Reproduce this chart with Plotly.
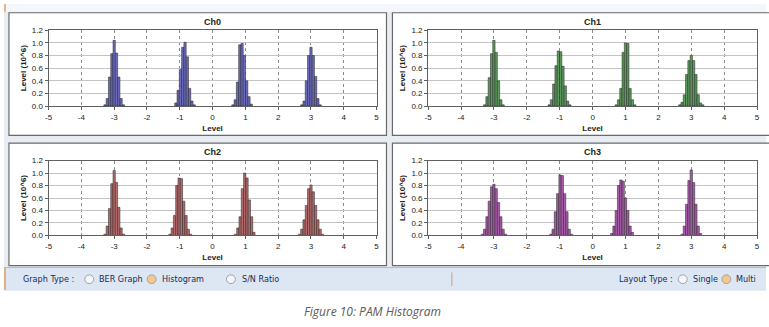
import plotly.graph_objects as go

W, H = 769, 327

# ---------------- data ----------------
channels = ["Ch0", "Ch1", "Ch2", "Ch3"]
bin_width = 0.07

# each cluster: (first bin centre, heights of consecutive bins)
ch0_clusters = [
    (-3.28, [0.02, 0.12, 0.46, 0.83, 1.04, 0.84, 0.46, 0.12, 0.02]),
    (-1.12, [0.05, 0.25, 0.58, 0.93, 1.01, 0.78, 0.28, 0.08, 0.02]),
    (0.62,  [0.02, 0.10, 0.38, 0.97, 0.99, 0.80, 0.40, 0.15, 0.03]),
    (2.72,  [0.02, 0.08, 0.40, 0.80, 0.93, 0.80, 0.47, 0.12, 0.02]),
]
ch1_clusters = [
    (-3.28, [0.02, 0.15, 0.45, 0.83, 1.04, 0.85, 0.40, 0.10, 0.02]),
    (-1.32, [0.02, 0.10, 0.35, 0.64, 0.87, 0.86, 0.63, 0.32, 0.08, 0.02]),
    (0.72,  [0.02, 0.10, 0.28, 0.85, 1.00, 0.99, 0.28, 0.10, 0.02]),
    (2.65,  [0.02, 0.06, 0.18, 0.50, 0.72, 0.80, 0.72, 0.50, 0.18, 0.05, 0.02]),
]
ch2_clusters = [
    (-3.28, [0.02, 0.15, 0.43, 0.83, 1.04, 0.85, 0.45, 0.12, 0.02]),
    (-1.30, [0.02, 0.12, 0.32, 0.80, 0.92, 0.91, 0.55, 0.32, 0.10, 0.02]),
    (0.70,  [0.02, 0.12, 0.30, 0.75, 1.00, 0.92, 0.57, 0.30, 0.05]),
    (2.65,  [0.02, 0.10, 0.25, 0.48, 0.75, 0.81, 0.70, 0.48, 0.25, 0.10, 0.02]),
]
ch3_clusters = [
    (-3.35, [0.02, 0.10, 0.30, 0.55, 0.78, 0.82, 0.75, 0.53, 0.30, 0.10, 0.02]),
    (-1.27, [0.02, 0.10, 0.38, 0.67, 0.97, 0.96, 0.67, 0.38, 0.10, 0.02]),
    (0.58,  [0.03, 0.15, 0.40, 0.80, 0.89, 0.87, 0.60, 0.40, 0.15, 0.05]),
    (2.72,  [0.02, 0.15, 0.50, 0.88, 1.05, 0.85, 0.50, 0.15, 0.03]),
]
all_clusters = [ch0_clusters, ch1_clusters, ch2_clusters, ch3_clusters]

x_ticks = [-5, -4, -3, -2, -1, 0, 1, 2, 3, 4, 5]
y_ticks = [0.0, 0.2, 0.4, 0.6, 0.8, 1.0, 1.2]
y_title = "Level (10^6)"
x_title = "Level"

bar_colors = ["#6a6abd", "#5c9a5c", "#b46a6a", "#a85aaa"]

# ---------------- layout helpers ----------------
def px(x):
    return x / W

def py(y):
    return 1 - y / H

# plot area pixel boxes: (left, right, top, bottom)
plot_boxes = [
    (45, 376, 27, 105),
    (428, 760, 27, 105),
    (45, 376, 161, 238),
    (428, 760, 161, 238),
]
# panel frame boxes
frame_boxes = [
    (5, 386, 9, 135),
    (392, 775, 9, 135),
    (5, 386, 143, 269),
    (392, 775, 143, 269),
]

fig = go.Figure()

shapes = []
# window background
shapes.append(dict(type="rect", xref="paper", yref="paper", x0=0, x1=1, y0=py(295), y1=1,
                   fillcolor="#e8edf4", line=dict(width=0), layer="below"))
shapes.append(dict(type="rect", xref="paper", yref="paper", x0=0, x1=1, y0=py(8), y1=1,
                   fillcolor="#f3f6fa", line=dict(width=0), layer="below"))
shapes.append(dict(type="line", xref="paper", yref="paper", x0=px(1), x1=px(1), y0=py(8), y1=1,
                   line=dict(color="#e0a060", width=1.5), layer="below"))
for (l, r, t, b) in frame_boxes:
    shapes.append(dict(type="rect", xref="paper", yref="paper", x0=px(l), x1=px(r), y0=py(b), y1=py(t),
                       fillcolor="white", line=dict(color="#6a6a6a", width=1.2), layer="below"))

annotations = []
for i, ch in enumerate(channels):
    idx = "" if i == 0 else str(i + 1)
    xa = "xaxis" + idx
    ya = "yaxis" + idx
    l, r, t, b = plot_boxes[i]
    xs, ys = [], []
    for start, heights in all_clusters[i]:
        for k, h in enumerate(heights):
            xs.append(round(start + k * bin_width, 3))
            ys.append(h)
    fig.add_trace(go.Bar(x=xs, y=ys, width=bin_width, xaxis="x" + idx, yaxis="y" + idx,
                         marker=dict(color=bar_colors[i], line=dict(color="#202020", width=0.5)),
                         showlegend=False))
    fig.layout[xa] = dict(domain=[px(l), px(r)], anchor="y" + idx, range=[-5, 5],
                          tickvals=x_ticks, ticktext=[str(v) for v in x_ticks],
                          showgrid=True, gridcolor="#8a8a8a", griddash="dot", gridwidth=1,
                          zeroline=False, showline=True, linecolor="#606060", linewidth=1, mirror=True,
                          ticks="outside", ticklen=3, tickcolor="#606060",
                          tickfont=dict(family="Liberation Sans, Arial", size=8, color="#222"),
                          title=dict(text="<b>" + x_title + "</b>", standoff=4,
                                     font=dict(family="Liberation Sans, Arial", size=8, color="#222")))
    fig.layout[ya] = dict(domain=[py(b), py(t)], anchor="x" + idx, range=[0, 1.2],
                          tickvals=y_ticks, ticktext=["%.1f" % v for v in y_ticks],
                          showgrid=True, gridcolor="#c4c4c4", gridwidth=1,
                          zeroline=False, showline=True, linecolor="#606060", linewidth=1, mirror=True,
                          ticks="outside", ticklen=3, tickcolor="#606060",
                          tickfont=dict(family="Liberation Sans, Arial", size=8, color="#222"),
                          title=dict(text="<b>" + y_title + "</b>", standoff=4,
                                     font=dict(family="Liberation Sans, Arial", size=8, color="#222")))
    annotations.append(dict(text="<b>" + ch + "</b>", xref="paper", yref="paper",
                            x=px((l + r) / 2), y=py(t - 9), showarrow=False,
                            xanchor="center", yanchor="middle",
                            font=dict(family="Liberation Sans, Arial", size=9, color="#222")))

# bottom toolbar
shapes.append(dict(type="rect", xref="paper", yref="paper", x0=0, x1=1, y0=py(294), y1=py(271),
                   fillcolor="#dde7f3", line=dict(width=0)))
shapes.append(dict(type="line", xref="paper", yref="paper", x0=0, x1=1, y0=py(271), y1=py(271),
                   line=dict(color="#a9bfdc", width=1)))
shapes.append(dict(type="line", xref="paper", yref="paper", x0=px(1), x1=px(1), y0=py(294), y1=py(271),
                   line=dict(color="#e0a060", width=1.5)))
shapes.append(dict(type="line", xref="paper", yref="paper", x0=px(452), x1=px(452), y0=py(290), y1=py(276),
                   line=dict(color="#c8a080", width=1)))

ui_font = dict(family="DejaVu Sans Condensed, Liberation Sans Narrow, Arial", size=9, color="#1a2a55")
toolbar_y = 283
texts = [("Graph Type :", 17), ("BER Graph", 94), ("Histogram", 157), ("S/N Ratio", 238),
         ("Layout Type :", 619), ("Single", 693), ("Multi", 737)]
for txt, x0 in texts:
    annotations.append(dict(text=txt, xref="paper", yref="paper", x=px(x0), y=py(toolbar_y),
                            showarrow=False, xanchor="left", yanchor="middle", font=ui_font))
radios = [(86, False), (149, True), (229, False), (685, False), (729, True)]
for cx, on in radios:
    shapes.append(dict(type="circle", xref="paper", yref="paper",
                       x0=px(cx - 4.5), x1=px(cx + 4.5), y0=py(toolbar_y + 4.5), y1=py(toolbar_y - 4.5),
                       fillcolor="#f5c78a" if on else "#f4f6f9",
                       line=dict(color="#9aa4b0", width=1)))

annotations.append(dict(text="Figure 10: PAM Histogram", xref="paper", yref="paper",
                        x=px(372), y=py(316), showarrow=False, xanchor="center", yanchor="middle",
                        font=dict(family="Open Sans, Noto Sans", size=12, color="#5a5a5a", style="italic")))

fig.update_layout(width=W, height=H, margin=dict(l=0, r=0, t=0, b=0),
                  paper_bgcolor="white", plot_bgcolor="white",
                  barmode="overlay", shapes=shapes, annotations=annotations)

fig.write_html("out.html")
